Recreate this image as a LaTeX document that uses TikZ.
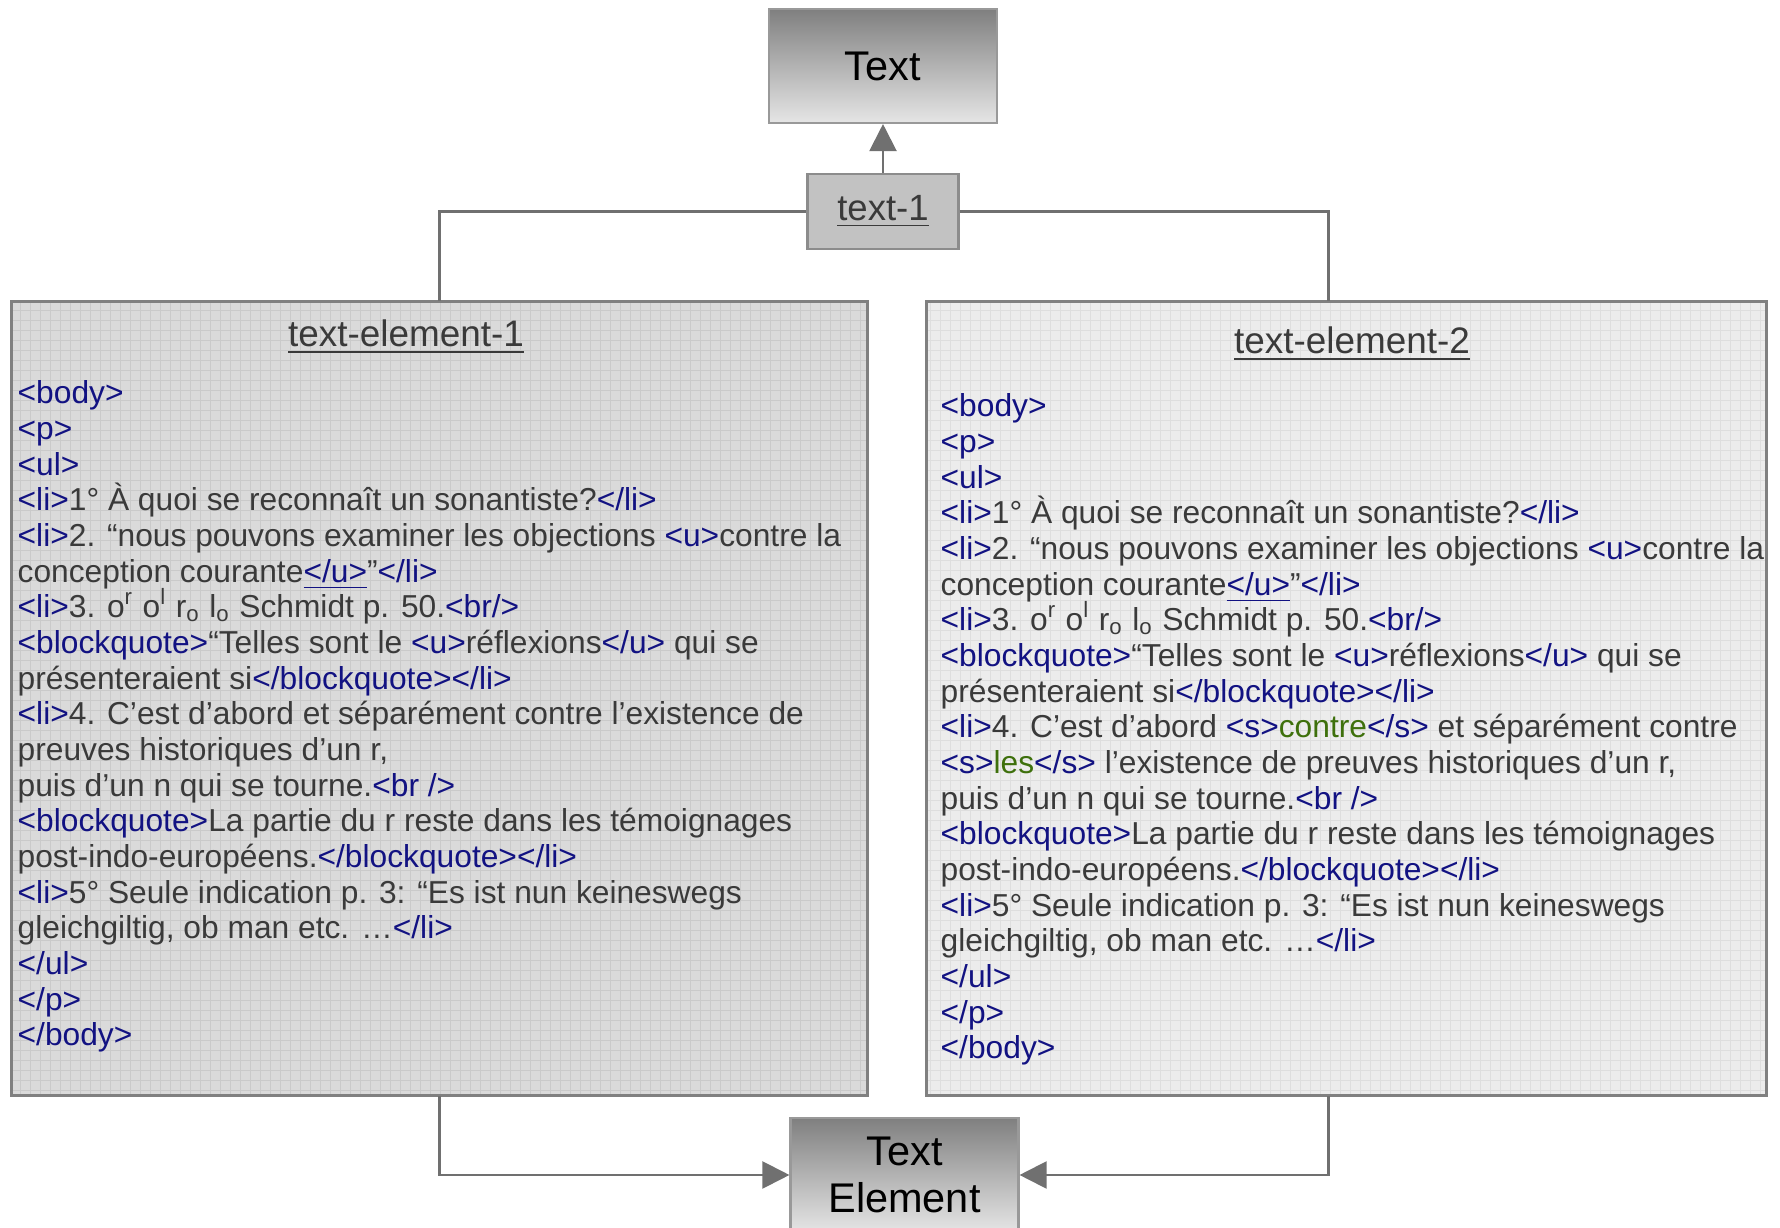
\documentclass[tikz,border=0pt]{standalone}
\usepackage{fontspec}
\setmainfont{Liberation Sans}
\usetikzlibrary{arrows.meta}
\definecolor{tagblue}{RGB}{18,18,130}
\definecolor{txtgray}{RGB}{58,58,58}
\definecolor{delgreen}{RGB}{62,112,12}
\definecolor{linegray}{RGB}{112,112,112}
\definecolor{elfillA}{RGB}{218,218,218}
\definecolor{elgridA}{RGB}{202,202,202}
\definecolor{elfillB}{RGB}{236,236,236}
\definecolor{elgridB}{RGB}{222,222,222}
\newcommand{\htag}[1]{\textcolor{tagblue}{#1}}
\newcommand{\hdel}[1]{\textcolor{delgreen}{#1}}
\newcommand{\hsup}[1]{\smash{\textsuperscript{#1}}}
\newcommand{\hsub}[1]{\smash{\textsubscript{#1}}}

\begin{document}
\begin{tikzpicture}[
    conn/.style={draw=linegray,line width=0.6pt},
    tip/.style={-{Triangle[length=0.27cm,width=0.27cm]}},
    classbox/.style={draw=gray!80,line width=0.6pt,top color=black!50,bottom color=black!10,
      minimum width=2.28cm,minimum height=1.14cm,font=\fontsize{11.8}{13.6}\selectfont,align=center},
    objbox/.style={draw=black!45,line width=0.8pt,fill=black!24,minimum width=1.51cm,minimum height=0.75cm,
      text=txtgray,font=\fontsize{10.4}{12}\selectfont},
    elbox/.style={minimum height=7.93cm,inner sep=0},
    hdr/.style={text=txtgray,font=\fontsize{10.5}{12}\selectfont},
    body/.style={anchor=north west,inner sep=0,align=left,text=txtgray,font=\fontsize{9.03}{10.15}\selectfont}
  ]
  \useasboundingbox (0,0) rectangle (17.8,-12.28);
  \clip (0,0) rectangle (17.8,-12.28);

  % class boxes
  \node[classbox] (txt) at (8.83,-0.66) {Text};
  \node[objbox] (t1) at (8.83,-2.115) {\raisebox{-0.6pt}{\underline{text-1}}};
  \node[classbox] (te) at (9.045,-11.75) {Text\\Element};

  % element boxes
  \node[elbox,fill=elfillA,minimum width=8.55cm] (el1) at (4.395,-6.985) {};
  \node[elbox,fill=elfillB,minimum width=8.39cm] (el2) at (13.465,-6.985) {};
  \draw[elgridA,line width=0.2pt,step=0.1] (el1.south west) grid (el1.north east);
  \draw[elgridB,line width=0.2pt,step=0.1] (el2.south west) grid (el2.north east);
  \draw[black!50,line width=0.9pt] (el1.south west) rectangle (el1.north east);
  \draw[black!50,line width=0.9pt] (el2.south west) rectangle (el2.north east);

  % connectors
  \draw[conn,tip] (t1) -- (txt);
  \draw[conn] (t1.west) -| (el1.north);
  \draw[conn] (t1.east) -| ([xshift=-0.18cm]el2.north);
  \draw[conn,tip] (el1.south) |- (te.west);
  \draw[conn,tip] ([xshift=-0.18cm]el2.south) |- (te.east);

  % contents
  \node[hdr] (h1) at (4.06,-3.37) {\underline{text-element-1}};
  \node[hdr] (h2) at (13.52,-3.44) {\underline{text-element-2}};
  \node[body] (b1) at (0.17,-3.80) {%
    \htag{<body>}\\
    \htag{<p>}\\
    \htag{<ul>}\\
    \htag{<li>}1° À quoi se reconnaît un sonantiste?\htag{</li>}\\
    \htag{<li>}2. “nous pouvons examiner les objections \htag{<u>}contre la\\
    conception courante\htag{\underline{</u>}}”\htag{</li>}\\
    \htag{<li>}3. o\hsup{r} o\hsup{l} r\hsub{o} l\hsub{o} Schmidt p. 50.\htag{<br/>}\\
    \htag{<blockquote>}“Telles sont le \htag{<u>}réflexions\htag{</u>} qui se\\
    présenteraient si\htag{</blockquote></li>}\\
    \htag{<li>}4. C’est d’abord et séparément contre l’existence de\\
    preuves historiques d’un r,\\
    puis d’un n qui se tourne.\htag{<br />}\\
    \htag{<blockquote>}La partie du r reste dans les témoignages\\
    post-indo-européens.\htag{</blockquote></li>}\\
    \htag{<li>}5° Seule indication p. 3: “Es ist nun keineswegs\\
    gleichgiltig, ob man etc. …\htag{</li>}\\
    \htag{</ul>}\\
    \htag{</p>}\\
    \htag{</body>}};
  \node[body] (b2) at (9.40,-3.93) {%
    \htag{<body>}\\
    \htag{<p>}\\
    \htag{<ul>}\\
    \htag{<li>}1° À quoi se reconnaît un sonantiste?\htag{</li>}\\
    \htag{<li>}2. “nous pouvons examiner les objections \htag{<u>}contre la\\
    conception courante\htag{\underline{</u>}}”\htag{</li>}\\
    \htag{<li>}3. o\hsup{r} o\hsup{l} r\hsub{o} l\hsub{o} Schmidt p. 50.\htag{<br/>}\\
    \htag{<blockquote>}“Telles sont le \htag{<u>}réflexions\htag{</u>} qui se\\
    présenteraient si\htag{</blockquote></li>}\\
    \htag{<li>}4. C’est d’abord \htag{<s>}\hdel{contre}\htag{</s>} et séparément contre\\
    \htag{<s>}\hdel{les}\htag{</s>} l’existence de preuves historiques d’un r,\\
    puis d’un n qui se tourne.\htag{<br />}\\
    \htag{<blockquote>}La partie du r reste dans les témoignages\\
    post-indo-européens.\htag{</blockquote></li>}\\
    \htag{<li>}5° Seule indication p. 3: “Es ist nun keineswegs\\
    gleichgiltig, ob man etc. …\htag{</li>}\\
    \htag{</ul>}\\
    \htag{</p>}\\
    \htag{</body>}};
\end{tikzpicture}
\end{document}
